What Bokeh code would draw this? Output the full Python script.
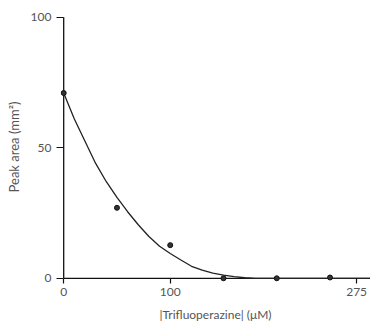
from bokeh.plotting import figure
from bokeh.models import Range1d, FixedTicker
from bokeh.embed import file_html
from bokeh.resources import INLINE

# measured points
conc = [0, 50, 100, 150, 200, 250]
peak = [71, 27, 12.7, 0, 0, 0.3]

# fitted curve
curve_x = [0, 10, 20, 30, 40, 50, 60, 70, 80, 90, 100, 110, 120, 130, 140, 150, 160, 170, 180, 288]
curve_y = [71, 61, 52.5, 44, 37, 31, 25.5, 20.5, 16, 12.3, 9.5, 7, 4.6, 3.1, 2.0, 1.2, 0.6, 0.2, 0, 0]

x_ticks = [0, 100, 275]
y_ticks = [0, 50, 100]
x_end = 288

p = figure(width=370, height=327, output_backend="svg", toolbar_location=None,
           x_range=Range1d(-3, x_end), y_range=Range1d(-2.0, 102.6),
           min_border_left=60, min_border_right=0, min_border_top=10, min_border_bottom=44)
p.outline_line_color = None
p.grid.visible = False
p.background_fill_color = "white"
p.border_fill_color = "white"

axis_color = "#111111"
# axis lines drawn at data zero
p.segment(x0=[x_ticks[0]], y0=[y_ticks[0]], x1=[x_ticks[0]], y1=[y_ticks[-1]],
          line_color=axis_color, line_width=1.3)
p.segment(x0=[x_ticks[0]], y0=[y_ticks[0]], x1=[x_end], y1=[y_ticks[0]],
          line_color=axis_color, line_width=1.3)

p.line(curve_x, curve_y, line_color="#222222", line_width=1.3)
p.scatter(conc, peak, size=5, fill_color="#333333", line_color="#111111", line_width=1)

text_color = "#555555"
font = "Lato"

for ax in (p.xaxis[0], p.yaxis[0]):
    ax.axis_line_color = None
    ax.major_tick_line_color = axis_color
    ax.major_tick_line_width = 1.2
    ax.minor_tick_line_color = None
    ax.major_label_text_font = font
    ax.major_label_text_font_size = "12px"
    ax.major_label_text_color = text_color
    ax.axis_label_text_font = font
    ax.axis_label_text_font_style = "normal"
    ax.axis_label_text_color = text_color

p.xaxis.ticker = FixedTicker(ticks=x_ticks)
p.yaxis.ticker = FixedTicker(ticks=y_ticks)
p.xaxis.major_tick_in = 5
p.xaxis.major_tick_out = 0
p.yaxis.major_tick_in = 3
p.yaxis.major_tick_out = 4
p.xaxis.major_label_standoff = 4
p.yaxis.major_label_standoff = 5
p.xaxis.axis_label = "|Trifluoperazine| (μM)"
p.yaxis.axis_label = "Peak area (mm²)"
p.xaxis.axis_label_text_font_size = "12px"
p.yaxis.axis_label_text_font_size = "13px"
p.xaxis.axis_label_standoff = 8
p.yaxis.axis_label_standoff = 6

open("out.html", "w").write(file_html(p, INLINE))
